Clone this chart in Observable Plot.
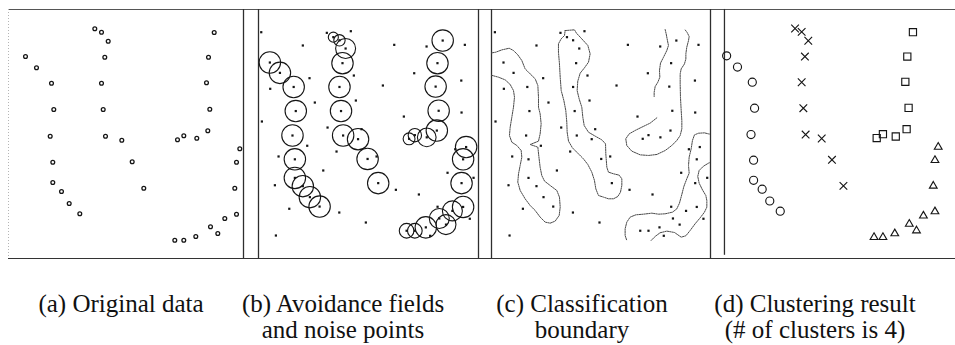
<!DOCTYPE html>
<html>
<head>
<meta charset="utf-8">
<script src="https://cdn.jsdelivr.net/npm/d3@7"></script>
<script src="https://cdn.jsdelivr.net/npm/@observablehq/plot@0.6"></script>
<style>
  html, body { margin: 0; padding: 0; background: #fff; overflow: hidden; }
  #fig { position: relative; width: 955px; height: 345px; }
  .panel { position: absolute; }
  .hline { position: absolute; left: 8px; width: 947px; height: 1px; }
  .cap {
    position: absolute; width: 320px; text-align: center; white-space: nowrap;
    font-family: "Liberation Serif", "Times New Roman", serif;
    font-size: 25px; line-height: 25px; color: #111;
  }
</style>
</head>
<body>
<div id="fig"></div>
<script>
// ---- data (shared coordinate space for all four views; y grows downward) ----

// the 38 sample points, cluster ids: 1 = circles, 2 = crosses, 3 = squares, 4 = triangles
const pointX = [17.0, 28.0, 43.0, 45.3, 41.7, 44.3, 44.3, 53.0, 60.7, 71.3,
                86.3, 93.0, 99.7, 96.3, 93.0, 94.7, 97.0, 113.3, 123.7, 135.3,
                205.7, 200.0, 198.0, 201.3, 199.3, 188.3, 175.3, 169.0,
                231.3, 228.0, 226.3, 228.0, 216.3, 202.0, 209.3, 187.3, 175.3, 166.3];
const pointY = [47.0, 58.3, 73.7, 100.0, 126.7, 152.7, 173.0, 182.0, 194.0, 204.3,
                19.3, 22.7, 31.7, 47.7, 73.7, 100.0, 126.7, 130.7, 152.3, 178.7,
                23.0, 47.7, 73.3, 99.7, 121.3, 128.7, 126.3, 130.3,
                139.3, 152.7, 178.7, 204.7, 209.0, 217.3, 224.0, 227.0, 230.7, 230.7];
const pointCluster = [1, 1, 1, 1, 1, 1, 1, 1, 1, 1,
                      2, 2, 2, 2, 2, 2, 2, 2, 2, 2,
                      3, 3, 3, 3, 3, 3, 3, 3,
                      4, 4, 4, 4, 4, 4, 4, 4, 4, 4];
// radius of each point's avoidance field
const fieldRadius = [11.7, 11.7, 11.7, 11.7, 11.7, 11.7, 11.7, 11.7, 11.7, 11.7,
                     5.5, 6.2, 10.9, 11.7, 11.7, 11.7, 11.7, 11.7, 11.7, 11.7,
                     11.7, 11.7, 11.7, 11.7, 11.7, 10.2, 7.3, 6.5,
                     11.7, 11.7, 11.7, 11.7, 10.9, 10.9, 10.9, 11.7, 8.0, 8.0];

// noise points
const noiseX = [7.6, 79.2, 105.4, 53.0, 152.8, 188.1, 229.9, 60.3, 17.4, 108.7,
                140.4, 174.6, 226.0, 66.1, 110.9, 8.3, 163.3, 226.3, 80.0, 117.1,
                57.8, 89.8, 26.5, 219.4, 133.5, 75.3, 211.0, 239.4, 22.5, 154.6,
                179.7, 38.2, 92.8, 200.1, 235.3, 121.8, 23.6, 192.0];
const noiseY = [13.9, 14.6, 12.8, 28.4, 27.7, 29.5, 27.7, 64.1, 75.7, 61.2,
                72.1, 58.7, 66.7, 90.7, 88.5, 111.4, 106.0, 101.6, 118.0, 119.8,
                137.9, 144.2, 149.6, 141.7, 149.6, 164.9, 167.4, 172.9, 181.0, 186.0,
                191.1, 206.7, 210.8, 204.5, 217.6, 221.7, 235.9, 236.2];

// classification boundaries, as [x, y] vertices
const boundaryLeft = [[2.4,36.8],[8.6,35.7],[15.2,33.2],[23.2,31.4],[27.9,33.9],[32.6,38.6],[37.0,44.8],[40.6,53.9],[46.1,59.4],[51.6,64.8],[54.5,72.1],[55.2,84.8],[55.2,95.8],[57.0,103.0],[58.1,114.0],[57.0,124.9],[55.2,132.9],[46.1,136.5],[54.5,139.4],[55.9,152.2],[57.0,161.3],[58.8,170.4],[61.8,176.5],[68.0,181.3],[75.2,186.7],[78.1,194.0],[78.9,204.9],[77.8,214.0],[73.4,220.2],[68.0,222.4],[62.5,221.3],[57.0,215.8],[51.6,208.6],[46.1,203.1],[40.6,195.8],[35.2,186.7],[32.6,177.6],[33.4,168.5],[35.2,159.4],[37.0,150.3],[36.3,143.1],[31.6,137.6],[26.1,134.0],[23.5,126.7],[24.3,117.6],[26.1,106.7],[27.9,95.8],[29.0,84.8],[27.9,77.6],[24.3,71.0],[18.8,65.9],[11.5,63.0],[2.4,60.5]];
const boundaryMiddle = [[84.3,12.1],[94.5,11.3],[96.7,15.0],[102.5,21.2],[109.1,28.4],[111.6,37.5],[109.8,46.6],[105.4,52.8],[100.7,58.6],[98.1,67.4],[97.4,77.6],[99.6,86.7],[102.5,95.8],[103.6,106.7],[105.1,115.8],[109.8,123.1],[117.1,127.4],[124.3,131.4],[128.4,135.8],[128.7,146.7],[129.8,161.3],[131.6,166.7],[137.1,168.5],[143.3,170.0],[146.2,174.0],[146.2,181.3],[144.7,188.6],[141.8,193.3],[137.1,195.8],[131.6,195.8],[126.2,194.0],[120.7,192.2],[117.8,184.9],[116.3,175.8],[113.4,166.7],[109.1,158.4],[104.3,152.2],[98.1,146.0],[92.3,140.2],[88.0,132.9],[86.5,123.1],[86.1,112.1],[85.0,99.4],[82.9,88.5],[80.0,77.6],[78.9,63.0],[78.1,48.5],[77.0,35.7],[77.0,26.6],[79.9,21.2],[83.6,17.5],[84.3,12.1]];
const boundaryUpperRightA = [[184.4,107.4],[177.1,113.2],[168.0,117.6],[160.7,121.2],[154.2,124.9],[150.5,130.3],[151.6,137.6],[157.1,143.8],[166.2,147.8],[175.3,148.5],[184.4,147.4],[193.5,143.1],[200.8,137.6],[206.2,132.1],[209.9,126.7],[211.7,119.4],[211.7,110.3],[211.0,99.4],[210.2,84.8],[209.9,70.3],[209.9,59.4],[211.0,53.9],[214.6,48.5],[216.1,43.0],[216.1,37.5],[217.1,30.3],[219.0,23.0],[219.7,18.6],[217.5,14.2],[215.3,11.3]];
const boundaryUpperRightB = [[193.5,11.0],[194.6,15.7],[196.0,23.0],[197.1,28.4],[195.3,33.9],[191.7,41.2],[188.4,47.7],[187.3,55.7],[187.7,63.0],[185.5,68.5],[182.6,73.2],[181.5,79.4],[181.5,84.1]];
const boundaryLowerRightA = [[244.0,125.5],[240.8,124.9],[236.4,123.8],[229.9,124.2],[225.5,126.0],[223.3,132.1],[221.9,141.2],[219.7,150.3],[219.0,159.4],[219.7,167.8],[217.1,174.0],[213.9,182.4],[211.7,191.1],[209.1,200.6],[206.2,206.8],[201.5,210.4],[193.5,212.2],[186.2,212.6],[178.9,211.5],[169.8,212.6],[161.5,213.3],[155.3,215.8],[151.6,221.3],[149.8,228.6],[149.8,235.9],[151.6,241.3]];
const boundaryLowerRightB = [[178.2,241.3],[182.6,236.9],[188.0,232.9],[195.3,231.1],[203.7,232.6],[211.0,237.7],[216.1,236.2],[220.8,230.4],[226.2,223.1],[231.7,216.6],[236.4,210.4],[239.0,204.9],[239.0,197.7],[237.9,192.2],[234.2,186.0],[230.6,178.7],[229.1,171.4],[230.6,164.9],[235.3,160.2],[240.8,156.9],[244.0,155.5]];

// captions under each view
const captionLine1 = ["(a) Original data", "(b) Avoidance fields", "(c) Classification", "(d) Clustering result"];
const captionLine2 = ["", "and noise points", "boundary", "(# of clusters is 4)"];

// ---- layout ----
const TOP = 9, H = 249, PAD = 3;
const INK = "#151515";
const views = {
  a: {left: 8,   width: 235, x: [0, 235],     y: [0, 249]},
  b: {left: 258, width: 220, x: [4.6, 244.8], y: [-10.9, 261.0]},
  c: {left: 491, width: 219, x: [3.9, 243.0], y: [-10.9, 261.0]},
  d: {left: 724, width: 231, x: [14.8, 245.8], y: [0, 249]}
};
const captionCenter = [121, 343, 582, 815];

const points = pointX.map((x, i) => ({x, y: pointY[i], cluster: pointCluster[i], r: fieldRadius[i]}));
const noise = noiseX.map((x, i) => ({x, y: noiseY[i]}));
const boundaries = [boundaryLeft, boundaryMiddle, boundaryUpperRightA, boundaryUpperRightB, boundaryLowerRightA, boundaryLowerRightB];

const fig = document.getElementById("fig");

for (const [top, color] of [[TOP - 0.5, "#555"], [TOP + H - 0.5, "#333"]]) {
  const line = document.createElement("div");
  line.className = "hline";
  line.style.top = top + "px";
  line.style.background = color;
  fig.appendChild(line);
}

function draw(view, marks, extra = {}) {
  const v = views[view];
  const svg = Plot.plot({
    width: v.width + 2 * PAD,
    height: H + 2 * PAD,
    margin: PAD,
    x: {domain: v.x, axis: null},
    y: {domain: v.y, axis: null, reverse: true},
    style: {background: "transparent", overflow: "visible", display: "block"},
    marks,
    ...extra
  });
  const holder = document.createElement("div");
  holder.className = "panel";
  holder.style.left = (v.left - PAD) + "px";
  holder.style.top = (TOP - PAD) + "px";
  holder.appendChild(svg);
  fig.appendChild(holder);
}

const edge = (xs, opts = {}) => Plot.ruleX(xs, {stroke: "#2e2e2e", strokeWidth: 1.3, ...opts});
const smallDot = (data) => Plot.dot(data, {x: "x", y: "y", symbol: "square", r: 1.25, fill: INK, stroke: "none"});

// (a) original data
draw("a", [
  edge([views.a.x[0]], {stroke: "#b5b5b5", strokeWidth: 1, strokeDasharray: "1,2"}),
  edge([views.a.x[1]]),
  Plot.dot(points, {x: "x", y: "y", r: 1.9, fill: "white", stroke: INK, strokeWidth: 1.3})
]);

// (b) avoidance fields and noise points
const kb = views.b.width / (views.b.x[1] - views.b.x[0]);
const rMax = d3.max(fieldRadius);
draw("b", [
  edge(views.b.x),
  Plot.dot(points, {x: "x", y: "y", r: "r", fill: "none", stroke: INK, strokeWidth: 1.1}),
  smallDot(points),
  smallDot(noise)
], {r: {type: "linear", domain: [0, rMax], range: [0, rMax * kb]}});

// (c) classification boundary
draw("c", [
  edge(views.c.x),
  ...boundaries.map(b => Plot.line(b, {x: d => d[0], y: d => d[1], stroke: "#4a4a4a", strokeWidth: 1, strokeDasharray: "1.4,1", clip: true})),
  smallDot(points),
  smallDot(noise)
]);

// (d) clustering result
const symbolStyle = {1: ["circle", 4.1], 2: ["times", 3.6], 3: ["square", 4.1], 4: ["triangle", 2.9]};
draw("d", [
  edge([views.d.x[0]]),
  ...[1, 2, 3, 4].map(c => Plot.dot(points.filter(p => p.cluster === c), {
    x: "x", y: "y", symbol: symbolStyle[c][0], r: symbolStyle[c][1],
    fill: "none", stroke: INK, strokeWidth: 1.15
  }))
]);

// captions
captionLine1.forEach((t, i) => {
  [[t, 290.5], [captionLine2[i], 317]].forEach(([text, top]) => {
    if (!text) return;
    const el = document.createElement("div");
    el.className = "cap";
    el.textContent = text;
    el.style.left = (captionCenter[i] - 160) + "px";
    el.style.top = top + "px";
    fig.appendChild(el);
  });
});
</script>
</body>
</html>
